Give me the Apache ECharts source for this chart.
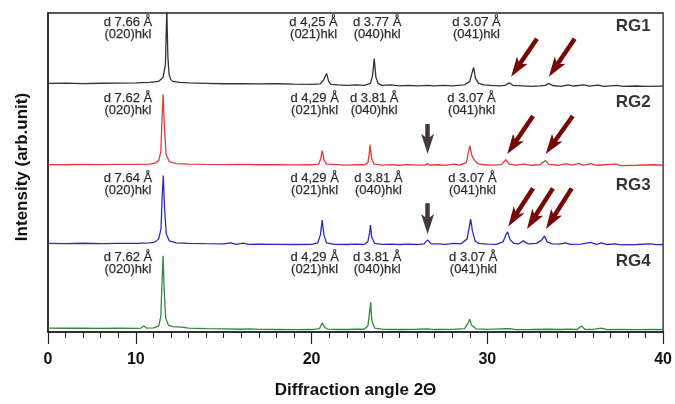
<!DOCTYPE html>
<html>
<head>
<meta charset="utf-8">
<script src="https://cdn.jsdelivr.net/npm/echarts@6/dist/echarts.min.js"></script>
<style>
  html, body { margin: 0; padding: 0; background: #fff; }
  #chart { width: 675px; height: 404px; }
</style>
</head>
<body>
<div id="chart"></div>
<script>
// intensity traces, [2theta, counts] (counts in arb. units, before stacking offset)
var rg1 = [[5,3],[6,3.2],[7,2.8],[8,3.1],[9,3.2],[10,3.5],[10.8,4],[11.3,5],[11.55,9],[11.68,22],[11.76,78],[11.82,30],[11.89,12],[11.98,7],[12.1,5],[12.5,4],[13,3.5],[14,3],[15,2.6],[16,2.8],[17,2.4],[18,2.6],[19,2.2],[20,2],[20.5,2.5],[20.7,7],[20.85,13],[20.97,5],[21.1,2],[21.5,1.5],[22,1],[22.5,1.5],[23,1],[23.35,3],[23.47,11],[23.56,28],[23.66,9],[23.78,3],[24,1],[24.5,1.5],[25,0.5],[25.5,1],[26,0.5],[26.6,1],[27,0.5],[27.5,1],[28,0.5],[28.7,1.5],[29,5],[29.12,13],[29.22,19],[29.32,8],[29.5,3],[29.8,1.5],[30.2,1],[30.7,0.5],[31.0,1],[31.25,3.5],[31.45,1],[32,0.5],[32.5,0],[33,0.5],[33.3,1],[33.5,3],[33.7,0.8],[34.2,0],[34.6,1.5],[34.9,0.3],[35.5,1.5],[35.8,0.2],[36.3,1.2],[36.6,0],[37.4,1],[37.7,0],[38.5,0.3],[39,0],[40,0.2]];
var rg2 = [[5,1],[6,0.8],[7,1.2],[8,1],[9,1.3],[10,1.2],[10.8,1.5],[11.1,2.5],[11.3,5],[11.42,14],[11.49,48],[11.55,72],[11.62,40],[11.72,11],[11.9,4],[12.3,2],[13,1.5],[14,1.2],[15,1],[16,1.3],[17,0.8],[18,1],[19,0.7],[20,0.8],[20.4,1.5],[20.52,7],[20.6,15],[20.7,6],[20.85,1.5],[21.5,1],[22,0.5],[22.5,1],[23,0.8],[23.2,3],[23.28,12],[23.33,21],[23.4,8],[23.55,1.5],[24,0.5],[24.5,1],[25,0.3],[25.5,1],[26,0.5],[26.45,0.5],[26.6,2],[26.75,0.3],[27.2,0.8],[27.6,0.2],[28.1,1.5],[28.4,0.5],[28.8,3],[28.92,13],[29.0,20],[29.12,10],[29.28,5],[29.45,2],[29.8,0.8],[30.3,0.5],[30.8,1],[31.05,6],[31.25,1.5],[31.6,0.5],[32.1,1.5],[32.5,0.3],[33.0,0.8],[33.3,5],[33.5,1.2],[34.0,0.3],[34.5,2],[34.8,0.4],[35.2,2],[35.5,0.5],[35.9,2],[36.2,0.3],[37.3,1.5],[37.6,0],[38.5,0.3],[39.5,0.8],[40,0.3]];
var rg3 = [[5,1.5],[6,1.2],[7,1.6],[8,1.3],[9,1.5],[10,1.4],[10.8,2],[11.1,3],[11.3,6],[11.43,16],[11.5,50],[11.56,70],[11.63,38],[11.73,11],[11.9,4],[12.3,2],[13,1.5],[14,1.2],[15,1],[15.4,2],[15.7,0.5],[16.1,1.8],[16.4,0.4],[17,0.8],[18,0.5],[19,0.3],[20,0.5],[20.35,2],[20.5,10],[20.6,25],[20.7,10],[20.85,2],[21.3,0.5],[22,0.3],[22.5,0.8],[23,0.5],[23.2,3],[23.3,12],[23.35,20],[23.42,8],[23.58,1.5],[24,0.5],[24.5,0.8],[25,0.3],[25.5,0.8],[26,0.3],[26.4,1],[26.6,5],[26.8,1],[27.2,1],[27.6,0.5],[28.1,1.5],[28.5,1],[28.85,6],[28.97,18],[29.05,26],[29.15,14],[29.3,4],[29.5,1.5],[30,0.8],[30.5,0.5],[30.9,3],[31.05,10],[31.15,13],[31.3,5],[31.5,1.5],[31.8,1],[32.05,4],[32.3,1],[32.8,1.5],[33.1,5],[33.25,9],[33.4,3],[33.7,1],[34.1,0.8],[34.45,2],[34.7,0.5],[35.3,0.8],[35.9,2.5],[36.2,0.5],[36.5,2],[36.8,0.3],[37.3,1],[37.6,0],[38.5,0.3],[39.3,1],[39.6,0.2],[40,0.3]];
var rg4 = [[5,2],[6,1.8],[7,1.9],[8,1.6],[9,1.8],[10,1.7],[10.3,2],[10.45,4],[10.6,2],[11,2.2],[11.3,4],[11.42,14],[11.49,50],[11.55,75],[11.61,40],[11.7,12],[11.85,5],[12.1,3.5],[12.6,3],[13,2],[14,1.5],[15,1.2],[16,0.8],[16.5,1.2],[17,0.6],[18,0.5],[19,0.4],[20,0.5],[20.45,1.5],[20.6,7],[20.72,3],[20.9,1],[21.5,0.5],[22,0.5],[22.5,0.8],[23,0.8],[23.2,4],[23.3,18],[23.36,28],[23.42,10],[23.58,2],[24,0.8],[25,0.5],[26,0.8],[26.6,1.2],[27,0.5],[28,0.6],[28.7,1.5],[28.9,7],[29.0,11],[29.1,5],[29.35,1.2],[30,0.6],[31.0,1.5],[31.3,1.3],[31.6,0.4],[32.5,0.5],[33.5,0.8],[34.2,0.5],[34.6,1],[35.1,0.5],[35.35,4],[35.55,0.8],[35.9,0.5],[36.5,2],[36.8,0.3],[37.5,0.5],[38.5,0.3],[39.5,0.5],[40,0.4]];

var names = ['RG1', 'RG2', 'RG3', 'RG4'];
var traces = [rg1, rg2, rg3, rg4];
var offsets = [248, 168, 88, 2];
var colors = ['#333333', '#e23b3b', '#2b2bbd', '#2f8a40'];

// peak annotations [2theta, y, text]
var peakLabels = [
  [9.55, 306, 'd 7.66 Å\n(020)hkl'], [20.11, 306, 'd 4,25 Å\n(021)hkl'], [23.73, 306, 'd 3.77 Å\n(040)hkl'], [29.38, 306, 'd 3.07 Å\n(041)hkl'],
  [9.55, 229.5, 'd 7.62 Å\n(020)hkl'], [20.17, 229.5, 'd 4,29 Å\n(021)hkl'], [23.56, 229.5, 'd 3.81 Å\n(040)hkl'], [29.10, 229.5, 'd 3.07 Å\n(041)hkl'],
  [9.55, 148.5, 'd 7.64 Å\n(020)hkl'], [20.17, 148.5, 'd 4,29 Å\n(021)hkl'], [23.80, 148.5, 'd 3.81 Å\n(040)hkl'], [29.15, 148.5, 'd 3.07 Å\n(041)hkl'],
  [9.55, 69, 'd 7.62 Å\n(020)hkl'], [20.17, 69, 'd 4,29 Å\n(021)hkl'], [23.73, 69, 'd 3.81 Å\n(040)hkl'], [29.20, 69, 'd 3.07 Å\n(041)hkl']
];
var sampleLabels = [[38.3, 309, 'RG1'], [38.3, 232, 'RG2'], [38.3, 148, 'RG3'], [38.3, 71, 'RG4']];

// arrows [x1, y1, x2, y2] - the head sticks out past (x2, y2)
var redArrows = [
  [32.82, 296, 31.67, 266], [34.97, 296, 33.82, 266],
  [32.6, 218, 31.45, 188], [34.86, 218, 33.65, 188],
  [32.6, 145, 31.50, 115], [33.73, 145, 32.56, 112.5], [34.8, 145, 33.64, 112.5]
];
var grayArrows = [[26.6, 210, 26.6, 190], [26.6, 130, 26.6, 109]];

var xTicks = [5, 10, 20, 30, 40];

// slim arrow head; the two tiny side segments only widen the box so the head keeps its shape
var arrowHead = 'path://M0,0L6.5,20L0,15L-6.5,20Z M-10,20L-10,20.01 M10,20L10,20.01';

function arrowLines(list) {
  return list.map(function (a) {
    return [{ coord: [a[0], a[1]] }, { coord: [a[2], a[3]] }];
  });
}

function textSeries(list, size, weight) {
  return {
    type: 'scatter',
    symbolSize: 0,
    itemStyle: { color: '#000' },
    silent: true,
    data: list,
    label: {
      show: true,
      position: 'inside',
      formatter: function (p) { return p.data[2]; },
      fontFamily: 'Liberation Sans, Arial, sans-serif',
      fontSize: size,
      fontWeight: weight,
      lineHeight: 12,
      color: '#000',
      textBorderColor: '#000',
      textBorderWidth: weight === 'bold' ? 0 : 0.25
    },
    z: 5
  };
}

function arrowSeries(list, color) {
  return {
    type: 'line',
    data: [],
    markLine: {
      silent: true,
      symbol: ['none', arrowHead],
      symbolSize: 20,
      label: { show: false },
      lineStyle: { color: color, width: 4.5, type: 'solid' },
      data: arrowLines(list)
    },
    z: 6
  };
}

var chart = echarts.init(document.getElementById('chart'));

var series = traces.map(function (t, i) {
  return {
    name: names[i],
    type: 'line',
    showSymbol: false,
    data: t.map(function (p) { return [p[0], p[1] + offsets[i]]; }),
    lineStyle: { color: colors[i], width: 1.3 },
    itemStyle: { color: colors[i] },
    z: 2
  };
});

series.push(textSeries(peakLabels, 13, 'normal'));
series.push(textSeries(sampleLabels, 17, 'bold'));
series.push(arrowSeries(redArrows, '#760808'));
series.push(arrowSeries(grayArrows, '#423a3a'));

var option = {
  animation: false,
  backgroundColor: '#fff',
  textStyle: { fontFamily: 'Liberation Sans, Arial, sans-serif' },
  grid: {
    left: 48, right: 8, top: 13, bottom: 69,
    show: true, borderColor: '#222', borderWidth: 1.3
  },
  xAxis: [{
    type: 'value', min: 5, max: 40, interval: 1,
    axisLine: { lineStyle: { color: '#222', width: 1.5 } },
    axisTick: { length: 6, lineStyle: { color: '#222', width: 1 } },
    axisLabel: { show: false },
    splitLine: { show: false }
  }, {
    type: 'value', min: 5, max: 40, position: 'bottom',
    axisLine: { show: false },
    axisTick: { customValues: xTicks, length: 12, lineStyle: { color: '#222', width: 1.2 } },
    axisLabel: {
      customValues: xTicks,
      formatter: function (v) { return v === 5 ? '0' : String(v); },
      fontSize: 16, fontWeight: 'bold', color: '#111', margin: 20
    },
    splitLine: { show: false },
    name: 'Diffraction angle 2Θ',
    nameLocation: 'middle',
    nameGap: 50,
    nameTextStyle: { fontSize: 17, fontWeight: 'bold', color: '#111' }
  }],
  yAxis: {
    type: 'value', min: 0, max: 322,
    axisLine: { show: true, lineStyle: { color: '#222', width: 1.5 } },
    axisTick: { show: false },
    axisLabel: { show: false },
    splitLine: { show: false }
  },
  graphic: [{
    type: 'text',
    x: 22, y: 167,
    rotation: Math.PI / 2,
    style: {
      text: 'Intensity (arb.unit)',
      fontSize: 17, fontWeight: 'bold', fill: '#111',
      fontFamily: 'Liberation Sans, Arial, sans-serif',
      align: 'center', verticalAlign: 'middle'
    }
  }],
  series: series
};

chart.setOption(option);
</script>
</body>
</html>
